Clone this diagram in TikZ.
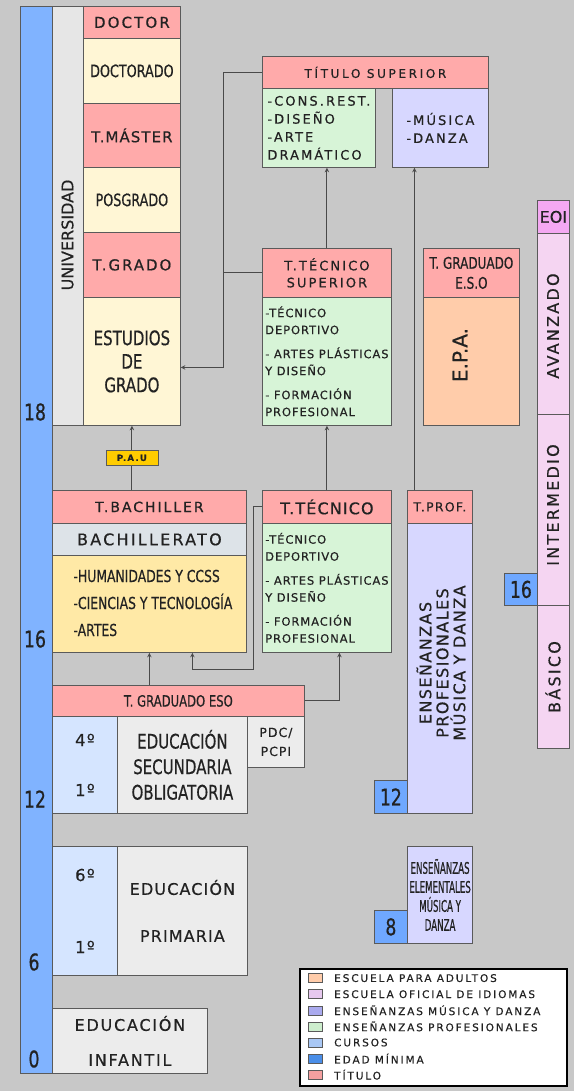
\documentclass[tikz,border=0pt]{standalone}
\usepackage{fontspec}
\setmainfont{DejaVu Sans}[FakeBold=0.5]
\newfontfamily\narrowfont{DejaVu Sans}[FakeStretch=0.75, FakeBold=0.5]
\newfontfamily\thinfont{DejaVu Sans}[FakeStretch=0.54, FakeBold=0.5]
\usetikzlibrary{positioning}

\definecolor{fondo}{HTML}{C8C8C8}
\definecolor{borde}{HTML}{5A5A5A}
\definecolor{linea}{HTML}{4A4A4A}
\definecolor{texto}{HTML}{222222}
\definecolor{edad}{HTML}{80B3FF}
\definecolor{edadbox}{HTML}{6FA8FF}
\definecolor{univ}{HTML}{E6E6E6}
\definecolor{titulo}{HTML}{FFAAAA}
\definecolor{crema}{HTML}{FFF6D5}
\definecolor{verde}{HTML}{D7F4D7}
\definecolor{morado}{HTML}{D7D7FF}
\definecolor{naranja}{HTML}{FFCCAA}
\definecolor{eoi}{HTML}{F4A8F2}
\definecolor{idiomas}{HTML}{F5D5F2}
\definecolor{bach}{HTML}{DDE3E8}
\definecolor{amarillo}{HTML}{FFE9A6}
\definecolor{pau}{HTML}{FFCC00}
\definecolor{cursos}{HTML}{D5E5FF}
\definecolor{gris}{HTML}{ECECEC}
\definecolor{lavanda}{HTML}{E6C8EE}
\definecolor{moradol}{HTML}{AAAAEE}
\definecolor{verdel}{HTML}{CDEECD}
\definecolor{azull}{HTML}{A9C8F5}
\definecolor{azul}{HTML}{4A8EE8}
\definecolor{rojo}{HTML}{F5A0A0}

\tikzset{>=stealth}

\begin{document}
\begin{tikzpicture}[x=1pt, y=-1pt,
    cell/.style={draw=borde, line width=0.8pt, anchor=north west, inner sep=2pt, align=center, text=texto},
    wh/.style 2 args={minimum width=#1pt, minimum height=#2pt},
    tx/.style n args={3}{font=\fontsize{#1}{#2}\selectfont\addfontfeature{LetterSpace=#3}},
    narrow/.style 2 args={font=\narrowfont\fontsize{#1}{#2}\selectfont},
    edadtxt/.style={font=\narrowfont\fontsize{23}{23}\selectfont, text=texto},
    lista/.style={align=left, tx={11.5}{17}{8}},
    conn/.style={draw=linea, line width=1pt},
    pau/.style={draw=borde, fill=pau, line width=0.6pt, minimum width=52pt, minimum height=15pt, inner sep=0pt, text=texto,
        font=\fontsize{8.5}{9}\selectfont\bfseries\addfontfeature{LetterSpace=15}}]
    \fill[fondo] (0,0) rectangle (574,1091);
    \useasboundingbox (0,0) rectangle (574,1091);

    % edad
    \node[cell, fill=edad, wh={32}{1067}] (barra) at (20,6) {};
    \node[edadtxt] (e18) at (35,412) {18};
    \node[edadtxt] (e16) at (35,639) {16};
    \node[edadtxt] (e12) at (35,799) {12};
    \node[edadtxt] (e6) at (34,962) {6};
    \node[edadtxt] (e0) at (34,1059) {0};

    % universidad
    \node[cell, fill=univ, wh={31}{419}] (univ) at (52,6) {};
    \node[rotate=90, tx={16}{16}{0}, text=texto] (univtxt) at (67.5,235) {UNIVERSIDAD};
    \node[cell, fill=titulo, wh={97}{32}, tx={15}{17}{14}] (doctor) at (83,6) {DOCTOR};
    \node[cell, fill=crema, wh={97}{65}, narrow={17}{17}] (doctorado) at (83,38) {DOCTORADO};
    \node[cell, fill=titulo, wh={97}{64}, tx={15}{17}{7}] (master) at (83,103) {T.MÁSTER};
    \node[cell, fill=crema, wh={97}{65}, narrow={17}{17}] (posgrado) at (83,167) {POSGRADO};
    \node[cell, fill=titulo, wh={97}{65}, tx={15}{17}{13}] (tgrado) at (83,232) {T.GRADO};
    \node[cell, fill=crema, wh={97}{128}, narrow={20}{23.5}] (estudios) at (83,297) {ESTUDIOS\\DE\\GRADO};

    % titulo superior
    \node[cell, fill=titulo, wh={226}{32}, tx={12}{13}{22}] (titsup) at (262,56) {TÍTULO SUPERIOR};
    \node[cell, fill=verde, wh={113}{79}, tx={13}{18}{16}, align=left] (cons) at (262,88) {-CONS.REST.\\-DISEÑO\\-ARTE\\DRAMÁTICO};
    \node[cell, fill=morado, wh={96}{79}, tx={13}{18}{16}, align=left] (musica) at (392,88) {-MÚSICA\\-DANZA};

    % tecnico superior
    \node[cell, fill=titulo, wh={129}{49}, tx={13}{17}{16}] (ttsup) at (262,248) {T.TÉCNICO\\SUPERIOR};
    \node[cell, fill=verde, wh={129}{128}, lista] (tsverde) at (262,297) {-TÉCNICO\\DEPORTIVO\\[7pt]- ARTES PLÁSTICAS\\Y DISEÑO\\[7pt]- FORMACIÓN\\PROFESIONAL};

    % adultos
    \node[cell, fill=titulo, wh={96}{49}, narrow={16}{20}] (tgepa) at (423,248) {T. GRADUADO\\E.S.O};
    \node[cell, fill=naranja, wh={96}{128}] (epa) at (423,297) {};
    \node[rotate=90, tx={20}{20}{0}, text=texto] (epatxt) at (460,355) {E.P.A.};

    % idiomas
    \node[cell, fill=eoi, wh={32}{33}, tx={16}{16}{0}] (eoi) at (537,200) {EOI};
    \node[cell, fill=idiomas, wh={32}{181}] (avanzado) at (537,233) {};
    \node[rotate=90, tx={16}{16}{14}, text=texto] (avtxt) at (553,326) {AVANZADO};
    \node[cell, fill=idiomas, wh={32}{191}] (intermedio) at (537,414) {};
    \node[rotate=90, tx={16}{16}{14}, text=texto] (inttxt) at (553,505) {INTERMEDIO};
    \node[cell, fill=idiomas, wh={32}{143}] (basico) at (537,605) {};
    \node[rotate=90, tx={16}{16}{14}, text=texto] (bastxt) at (553,677) {BÁSICO};
    \node[cell, fill=edadbox, wh={33}{32}, edadtxt] (e16b) at (504,573) {16};

    % bachillerato
    \node[cell, fill=titulo, wh={194}{33}, tx={14}{16}{14}] (tbach) at (52,490) {T.BACHILLER};
    \node[cell, fill=bach, wh={194}{32}, tx={16}{18}{14}] (bachillerato) at (52,523) {BACHILLERATO};
    \node[cell, fill=amarillo, wh={194}{97}] (bachopc) at (52,555) {};
    \node[anchor=west, align=left, narrow={16.5}{27}, text=texto] (opciones) at (70,603) {-HUMANIDADES Y CCSS\\-CIENCIAS Y TECNOLOGÍA\\-ARTES};

    % tecnico
    \node[cell, fill=titulo, wh={129}{33}, tx={16}{18}{7}] (ttec) at (262,490) {T.TÉCNICO};
    \node[cell, fill=verde, wh={129}{129}, lista] (tecverde) at (262,523) {-TÉCNICO\\DEPORTIVO\\[7pt]- ARTES PLÁSTICAS\\Y DISEÑO\\[7pt]- FORMACIÓN\\PROFESIONAL};

    % musica y danza
    \node[cell, fill=titulo, wh={65}{33}, tx={12.5}{14}{10}] (tprof) at (407,490) {T.PROF.};
    \node[cell, fill=morado, wh={65}{290}] (ensprof) at (407,523) {};
    \node[rotate=90, align=center, tx={16}{17}{9}, text=texto] (ensproftxt) at (441,663) {ENSEÑANZAS\\PROFESIONALES\\MÚSICA Y DANZA};
    \node[cell, fill=edadbox, wh={33}{33}, edadtxt] (e12b) at (374,780) {12};
    \node[cell, fill=morado, wh={65}{97}, font=\thinfont\fontsize{16}{19}\selectfont] (elementales) at (407,846) {ENSEÑANZAS\\ELEMENTALES\\MÚSICA Y\\DANZA};
    \node[cell, fill=edadbox, wh={33}{33}, edadtxt] (e8b) at (374,910) {8};

    % eso
    \node[cell, fill=titulo, wh={252}{31}, narrow={15.5}{17}] (tgeso) at (52,685) {T. GRADUADO ESO};
    \node[cell, fill=cursos, wh={65}{97}, tx={16.5}{50}{8}] (cursoseso) at (52,716) {4º\\1º};
    \node[cell, fill=gris, wh={130}{97}, narrow={20}{25.5}] (eso) at (117,716) {EDUCACIÓN\\SECUNDARIA\\OBLIGATORIA};
    \node[cell, fill=gris, wh={57}{51}, tx={12.5}{19}{8}] (pdc) at (247,716) {PDC/\\PCPI};

    % primaria e infantil
    \node[cell, fill=cursos, wh={65}{129}, tx={16.5}{72}{8}] (cursosprim) at (52,846) {6º\\1º};
    \node[cell, fill=gris, wh={130}{129}, tx={16}{47}{7}] (primaria) at (117,846) {EDUCACIÓN\\PRIMARIA};
    \node[cell, fill=gris, wh={155}{65}, tx={16}{35}{11}] (infantil) at (52,1008) {EDUCACIÓN\\INFANTIL};

    % conectores
    \coordinate (bajada) at (223,0);
    \coordinate (entrada) at ([yshift=-6pt]estudios.east);
    \draw[conn, ->] (titsup.west) -| (bajada |- entrada) -- (entrada);
    \draw[conn] (ttsup.west) -- (ttsup.west -| bajada);
    \draw[conn, ->] (ttsup.north) -- (ttsup.north |- cons.south);
    \draw[conn, ->] ([xshift=-25.5pt]tprof.north) -- ([xshift=-25.5pt]tprof.north |- musica.south);
    \draw[conn, ->] (ttec.north) -- (tsverde.south);
    \draw[conn, ->] (tgeso.east) -| ([xshift=12.5pt]tecverde.south);
    \draw[conn, ->] (bachopc.south |- tgeso.north) -- (bachopc.south);
    \draw[conn, ->] (ttec.west) -- ++(-9,0) |- ([xshift=43pt, yshift=-17pt]bachopc.south) -- ([xshift=43pt]bachopc.south);
    \draw[conn, ->] (estudios.south |- tbach.north) -- node[pau] (pautxt) {P.A.U} (estudios.south);

    % leyenda
    \node[cell, fill=white, draw=black, line width=1.6pt, wh={267}{117}] (leyenda) at (299,968) {};
    \foreach \col/\txt [count=\i] in {naranja/ESCUELA PARA ADULTOS, lavanda/ESCUELA OFICIAL DE IDIOMAS,
        moradol/ENSEÑANZAS MÚSICA Y DANZA, verdel/ENSEÑANZAS PROFESIONALES, azull/CURSOS,
        azul/EDAD MÍNIMA, rojo/TÍTULO} {
        \node[cell, fill=\col, line width=0.6pt, wh={14}{9}, anchor=west, inner sep=0pt] (sw\i) at (308,{962+16.1*\i}) {};
        \node[anchor=west, inner sep=0pt, text=texto, tx={10.5}{11}{18}] (ley\i) at (334,{962+16.1*\i}) {\txt};
    }
\end{tikzpicture}
\end{document}
